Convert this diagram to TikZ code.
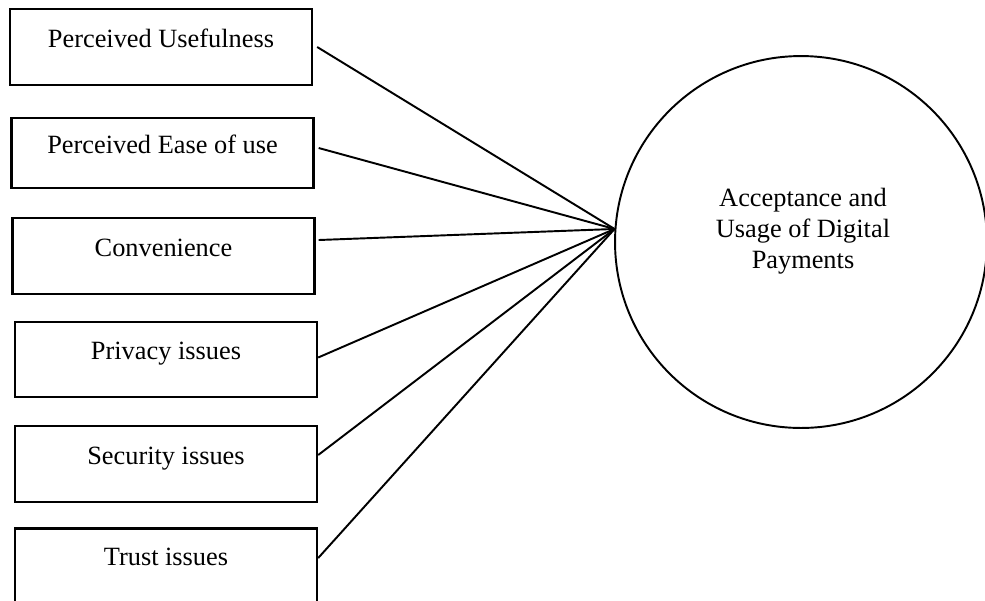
\documentclass[tikz,border=0pt]{standalone}
\usepackage{fontspec}
\setmainfont{Liberation Serif}
\begin{document}
\begin{tikzpicture}[x=0.02cm,y=-0.02cm,
  factor/.style={draw,line width=1.4pt,minimum width=6.04cm,inner sep=0pt,
    text height=0.76cm,text depth=0.76cm,font=\fontsize{15}{17.6}\selectfont},
  outcome/.style={draw,circle,line width=1.1pt,minimum size=7.44cm,inner sep=0pt},
  link/.style={line width=1.1pt}]
 \useasboundingbox (0,0) rectangle (985,600);
 \node[factor] (pu) at (161,47) {Perceived Usefulness};
 \node[factor,text height=0.7cm,text depth=0.7cm] (peou) at (162.5,153) {Perceived Ease of use};
 \node[factor] (conv) at (163.5,256) {Convenience};
 \node[factor,text height=0.75cm,text depth=0.75cm] (priv) at (166,359.5) {Privacy issues};
 \node[factor] (sec) at (166,464) {Security issues};
 \node[factor,text height=0.74cm,text depth=0.84cm] (trust) at (166,568) {Trust issues};
 \node[outcome,label={[align=center,xshift=0.04cm,yshift=0.22cm,
   font=\fontsize{15}{17.6}\selectfont]center:Acceptance and\\Usage of Digital\\Payments}]
   (adp) at (801,242) {};
 \coordinate (hub) at (adp.176);
 \draw[link] ([xshift=0.08cm]pu.east) -- (hub);
 \draw[link] ([xshift=0.08cm,yshift=0.1cm]peou.east) -- (hub);
 \draw[link] ([xshift=0.06cm,yshift=0.32cm]conv.east) -- (hub);
 \draw[link] ([yshift=0.04cm]priv.east) -- (hub);
 \draw[link] ([yshift=0.18cm]sec.east) -- (hub);
 \draw[link] ([yshift=0.2cm]trust.east) -- (hub);
\end{tikzpicture}
\end{document}
